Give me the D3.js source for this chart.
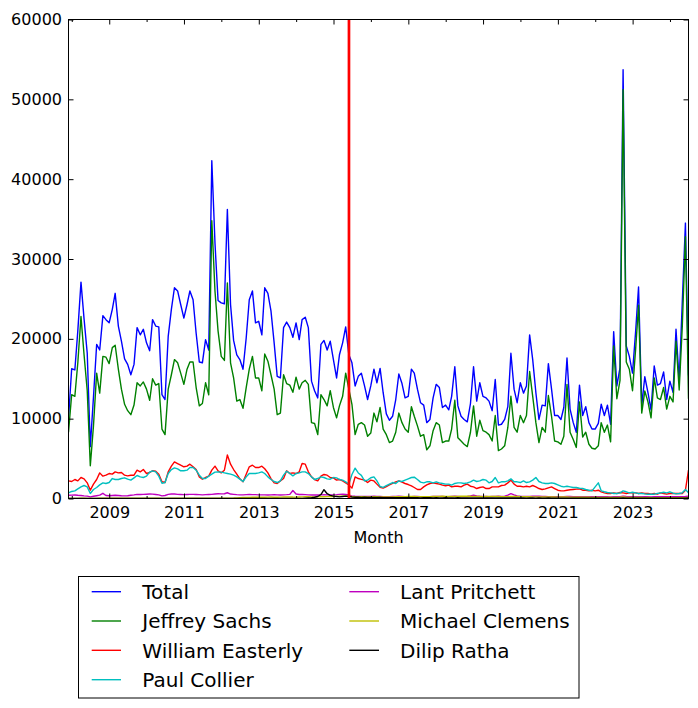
<!DOCTYPE html>
<html><head><meta charset="utf-8">
<script src="https://cdn.jsdelivr.net/npm/d3@7"></script>
<style>
body{margin:0;background:#fff;}
svg{display:block;}
text{font-family:"DejaVu Sans",sans-serif;fill:#000;}
</style>
</head><body>
<svg id="chart" width="698" height="708"></svg>
<script>
// monthly (month-end) observations, first one is November 2007
const firstYear = 2007, firstMonthIndex = 10; // 10 = November

const total = [10000,16250,16100,21000,27100,22500,18200,6500,12700,19300,
18600,22900,22400,22000,23700,25700,21600,19700,17500,16800,
15500,16800,21400,20500,21200,19500,18500,22400,21600,21500,
13000,12400,20300,23700,26400,26000,24300,22600,24300,26000,
24900,20700,17100,17000,19900,18600,42300,32000,24800,24500,
24400,36200,24300,19800,18000,17400,16200,20100,24900,26000,
22000,22200,20500,26400,25700,23500,19500,15300,15100,21400,
22100,21400,20200,22000,19900,22400,22700,21400,14700,13500,
12600,19300,19800,18600,19700,17400,15100,18000,19500,21500,
18000,17000,14100,15300,15700,14100,12400,14100,16200,14500,
16300,13250,10600,9800,10300,12400,15600,14400,12600,12800,
16200,15700,13700,12000,11700,9500,9900,12600,14300,13900,
11400,11700,11100,12800,16500,11600,10300,9900,9600,11900,
16500,12200,14500,12800,12600,12200,11000,14900,9200,9300,
9900,11500,18200,13700,12000,14500,13200,14100,20500,17400,
13250,9900,11700,11600,16900,13700,10400,10400,9900,11400,
17600,11200,9500,8300,14200,10400,11500,9500,8700,8700,
9400,11800,10400,11700,9300,20900,14100,16400,53700,19100,
17800,15700,21000,26500,11600,15250,13250,11100,16600,14200,
14400,15850,12400,14700,13300,21200,14700,24500,34500,15400];

const jeffreySachs = [8300,13000,12800,17000,22800,18000,13500,4100,9100,15700,
13200,17800,17700,16900,18900,19200,16200,13700,11800,11000,
10500,11700,14500,14100,14600,13700,12300,15000,14200,14400,
8700,8000,13700,15500,17400,17000,15700,14300,16200,17100,
17100,13900,11600,11900,14500,13000,34800,26000,21000,17800,
17300,27000,17000,15100,12200,12400,11300,13900,16200,17800,
15100,15100,13500,18100,17200,15500,13700,10500,10700,15500,
14400,14200,13300,15200,13700,14500,14800,14300,9500,9400,
8000,13000,12400,11600,13500,11400,10100,11600,12800,15700,
13700,11800,8000,9300,9500,9200,7800,8200,10700,9600,
11400,8700,8000,7000,7200,8300,10700,9500,8700,8300,
11500,10300,9100,7800,8000,6100,6600,8500,9500,9200,
7000,7200,7200,8700,12300,7600,7200,6800,6500,8300,
11600,7800,9800,8500,8300,8000,7200,10400,6000,6200,
6600,8900,12800,8900,8300,10400,9500,10400,15900,12800,
9500,7000,8900,8300,12900,10300,7200,7100,6800,7800,
14300,8300,7400,6400,12100,7700,8300,6800,6300,6200,
6600,9500,8300,9200,7100,19100,12500,14800,51200,17100,
16200,13500,18800,24200,10700,13460,12100,10100,15100,12600,
12400,13900,11200,12800,12100,19700,13600,21500,32800,12500];

const williamEasterly = [2210,2130,2380,2210,2630,2460,1960,1040,1800,2380,
3210,2800,2920,3130,3050,3340,3210,3260,2920,2840,
2920,2920,3550,3340,3630,3130,3260,3470,3420,3050,
2100,2000,3340,4050,4590,4380,4170,3970,4050,4300,
3970,3630,2710,2420,2630,2800,3550,4050,3470,3210,
3550,5450,4300,3630,3050,2460,2090,3050,3970,4170,
3880,3880,4050,3720,3210,2500,1960,1880,2210,2500,
3470,3130,3210,3130,3340,4380,4300,3340,2710,2380,
2210,2800,3010,2920,2630,2590,2300,2380,2210,1960,
1700,1300,2700,2500,2400,2300,2000,2300,2200,1800,
1400,1300,1500,1700,1900,2090,2210,2050,1880,1750,
1590,1380,1130,1130,1460,1710,1880,1960,1880,1800,
1670,1590,1670,1460,1540,1540,1460,1670,1800,1540,
1460,1250,1380,1460,1250,1250,1460,1460,1460,1630,
1670,1960,2300,1800,1540,1540,1460,1540,1460,1630,
1460,1250,1130,1210,1340,1460,1250,1040,960,960,
1040,1090,1130,1170,1210,1040,1040,960,1040,960,
1040,840,710,630,630,710,630,750,710,630,
710,710,710,630,710,630,630,540,630,540,
710,630,540,630,630,630,630,630,1040,3550];

const paulCollier = [710,880,960,1210,1460,1630,1460,630,1130,1380,
1710,1960,1880,2000,2500,2380,2380,2500,2590,2420,
2300,2590,2880,2710,2630,2800,3300,3470,3340,2800,
1900,2000,3130,3630,3840,3720,3470,3470,3550,3880,
3880,3550,2920,2500,2500,2800,3050,3300,3340,3300,
3210,3130,3050,2920,2710,2420,2130,2710,3130,3130,
3130,3210,3340,3130,2710,2380,2130,2000,2210,2920,
3420,3130,2840,3130,3210,3340,3340,3130,2710,2380,
2500,2710,2630,2460,2420,2630,2590,2380,2300,2090,
1800,3000,3800,3200,2900,2200,2300,2600,2700,2200,
1500,1400,1600,1800,2000,1880,2210,2130,2300,2460,
2630,2670,2380,2050,1960,2090,2090,1960,2090,1960,
1880,1800,1800,1670,1880,1960,1960,1880,1960,2090,
2300,2130,2210,2380,2300,1960,2130,2630,1960,2090,
2090,2210,2460,2090,2090,2000,2210,2000,2090,2300,
2630,2130,1960,1880,1880,1960,1880,1710,1540,1460,
1540,1460,1380,1380,1290,1250,1130,1040,960,1460,
1960,960,840,750,710,630,630,710,960,840,
710,790,710,630,630,580,540,540,540,630,
710,790,710,840,670,580,630,710,1130,710];

const lantPritchett = [400,420,430,400,380,330,300,200,280,350,
420,650,380,350,380,400,380,350,330,350,
400,450,520,500,520,540,560,550,500,450,
330,380,520,560,560,520,500,480,500,520,
520,500,480,460,480,500,520,560,600,580,
600,720,560,520,480,460,460,480,500,480,
480,460,460,450,440,460,480,460,440,460,
480,520,1000,560,500,500,480,460,440,450,
440,460,480,460,440,450,480,520,540,500,
450,300,280,270,260,250,260,270,280,260,
250,240,230,240,250,260,280,260,240,230,
230,250,260,240,230,220,230,250,270,260,
250,240,230,250,280,260,240,230,250,320,
420,330,280,260,250,240,250,260,280,270,
300,420,600,450,320,280,260,250,260,280,
300,280,260,250,240,230,220,230,240,230,
250,260,240,230,220,210,220,230,220,210,
220,230,220,210,200,210,220,230,300,250,
230,220,210,220,230,220,210,200,210,220,
230,220,210,220,230,220,210,220,250,300];

const michaelClemens = [20,20,20,20,30,30,20,10,20,20,
30,30,30,30,30,30,30,30,30,30,
30,30,30,30,30,30,30,30,30,30,
20,20,30,30,30,30,30,30,30,30,
30,30,30,30,30,30,40,40,40,40,
40,50,50,60,80,100,120,130,140,150,
160,170,150,160,170,180,160,150,170,180,
190,200,180,170,190,200,210,220,200,190,
200,210,220,230,240,250,260,280,300,320,
300,250,220,200,210,220,200,190,210,220,
200,190,180,190,200,210,220,230,240,250,
260,250,240,230,220,230,240,250,260,270,
280,270,260,250,260,270,280,290,300,280,
270,260,250,240,250,260,270,260,250,240,
230,240,250,260,250,240,230,220,210,200,
200,190,180,190,200,190,180,170,180,190,
180,170,160,170,160,150,160,150,140,150,
140,130,140,130,120,130,140,150,200,160,
140,130,120,130,120,110,120,110,100,110,
100,110,100,90,100,110,100,90,100,120];

const dilipRatha = [0,0,0,0,0,0,0,0,0,0,
0,0,0,0,0,0,0,0,0,0,
0,0,0,0,0,0,0,0,0,0,
0,0,0,0,0,0,0,0,0,0,
0,0,0,0,0,0,0,0,0,0,
0,0,0,0,0,0,0,0,0,0,
0,0,0,0,0,0,0,0,0,0,
0,0,0,0,0,0,50,80,100,150,
250,500,1100,600,400,300,250,200,250,300,
250,180,160,150,140,150,140,130,120,130,
120,110,100,110,100,90,100,110,100,90,
90,100,90,80,90,100,90,80,90,80,
80,90,80,70,80,90,80,70,80,70,
70,80,70,60,70,80,70,60,70,60,
60,70,80,60,60,70,60,50,60,60,
50,60,50,50,60,50,50,40,50,50,
40,50,40,40,50,40,40,50,40,40,
40,40,30,40,40,30,40,40,60,40,
30,40,30,30,40,30,30,40,30,30,
30,30,40,30,30,30,40,30,50,60];

const seriesNames = ["Total","Jeffrey Sachs","William Easterly","Paul Collier","Lant Pritchett","Michael Clemens","Dilip Ratha"];
const seriesColors = ["#0000ff","#008000","#ff0000","#00bfbf","#bf00bf","#bfbf00","#000000"];
const seriesValues = [total, jeffreySachs, williamEasterly, paulCollier, lantPritchett, michaelClemens, dilipRatha];

const yTicks = [0,10000,20000,30000,40000,50000,60000];
const majorYears = [2009,2011,2013,2015,2017,2019,2021,2023];
const minorYears = [2008,2010,2012,2014,2016,2018,2020,2022,2024];
const markerDay = [2015, 5, 1]; // 1 June 2015
const xLabel = "Month";

// dates: last day of each month
const months = total.map((_, k) => new Date(firstYear, firstMonthIndex + 1 + k, 0));

const svg = d3.select("#chart");
svg.append("rect").attr("width",698).attr("height",708).attr("fill","#fff");

const L = 68.5, R = 688.5, T = 19.5, B = 498.5;
const x = d3.scaleTime().domain([months[0], months[months.length-1]]).range([L, R]);
const y = d3.scaleLinear().domain([0, 60000]).range([B, T]);

svg.append("defs").append("clipPath").attr("id","plotclip")
  .append("rect").attr("x",L).attr("y",T).attr("width",R-L).attr("height",B-T);

const plot = svg.append("g").attr("clip-path","url(#plotclip)");
const line = d3.line().x((d,i) => x(months[i])).y(d => y(d));
seriesValues.forEach((vals, si) => {
  plot.append("path").datum(vals)
    .attr("d", line).attr("fill","none")
    .attr("stroke", seriesColors[si]).attr("stroke-width",1.4)
    .attr("stroke-linejoin","round");
});

// vertical marker
const mx = x(new Date(markerDay[0], markerDay[1], markerDay[2]));
plot.append("line").attr("x1",mx).attr("x2",mx).attr("y1",T).attr("y2",B)
  .attr("stroke","#ff0000").attr("stroke-width",2.7);

// axes
const yearDate = yr => new Date(yr, 0, 1);
function styleAxis(g){
  g.select(".domain").remove();
  g.selectAll(".tick line").attr("stroke","#000").attr("stroke-width",1);
  g.selectAll("text").attr("font-size",16).attr("fill","#000").attr("font-family","DejaVu Sans");
}
svg.append("g").attr("transform",`translate(0,${B})`)
  .call(d3.axisBottom(x).tickValues(majorYears.map(yearDate)).tickFormat(d3.timeFormat("%Y"))
    .tickSizeInner(-5).tickSizeOuter(0).tickPadding(8.5)).call(styleAxis);
svg.append("g").attr("transform",`translate(0,${B})`)
  .call(d3.axisBottom(x).tickValues(minorYears.map(yearDate)).tickFormat("")
    .tickSizeInner(-2.5).tickSizeOuter(0)).call(styleAxis);
svg.append("g").attr("transform",`translate(0,${T})`)
  .call(d3.axisTop(x).tickValues(majorYears.map(yearDate)).tickFormat("")
    .tickSizeInner(-5).tickSizeOuter(0)).call(styleAxis);
svg.append("g").attr("transform",`translate(0,${T})`)
  .call(d3.axisTop(x).tickValues(minorYears.map(yearDate)).tickFormat("")
    .tickSizeInner(-2.5).tickSizeOuter(0)).call(styleAxis);
svg.append("g").attr("transform",`translate(${L},0)`)
  .call(d3.axisLeft(y).tickValues(yTicks).tickFormat(d3.format("d"))
    .tickSizeInner(-5).tickSizeOuter(0).tickPadding(6.5)).call(styleAxis);
svg.append("g").attr("transform",`translate(${R},0)`)
  .call(d3.axisRight(y).tickValues(yTicks).tickFormat("")
    .tickSizeInner(-5).tickSizeOuter(0)).call(styleAxis);

// frame
svg.append("rect").attr("x",L).attr("y",T).attr("width",R-L).attr("height",B-T)
  .attr("fill","none").attr("stroke","#000").attr("stroke-width",1);

// x label
svg.append("text").attr("x",(L+R)/2).attr("y",543.3).attr("text-anchor","middle")
  .attr("font-size",16).text(xLabel);

// legend
const lg = svg.append("g");
lg.append("rect").attr("x",78.5).attr("y",576.5).attr("width",500.5).attr("height",121.5)
  .attr("fill","#fff").attr("stroke","#000").attr("stroke-width",1);
const rowY = [591.7, 621, 650.3, 679.7];
const cols = [{h1:91.7,h2:121,tx:142.3},{h1:349.3,h2:379,tx:400}];
seriesNames.forEach((name, i) => {
  const c = cols[i < 4 ? 0 : 1];
  const yy = rowY[i < 4 ? i : i - 4];
  lg.append("line").attr("x1",c.h1).attr("x2",c.h2).attr("y1",yy).attr("y2",yy)
    .attr("stroke",seriesColors[i]).attr("stroke-width",1.4);
  lg.append("text").attr("x",c.tx).attr("y",yy+7.3).attr("font-size",20).text(name);
});
</script>
</body></html>
